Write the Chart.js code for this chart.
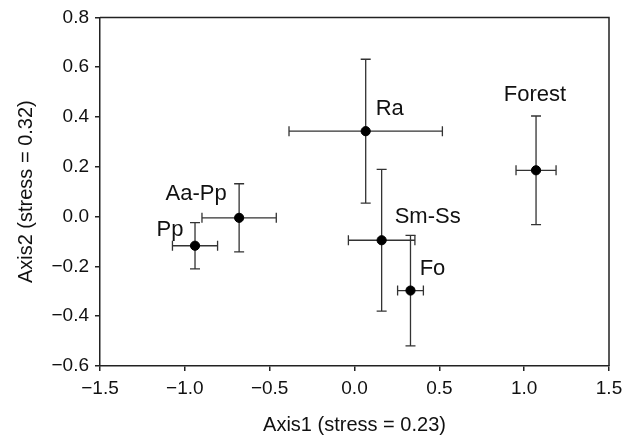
<!DOCTYPE html>
<html>
<head>
<meta charset="utf-8">
<script src="https://cdn.jsdelivr.net/npm/chart.js@4.4.1/dist/chart.umd.min.js"></script>
<style>
  body { margin: 0; background: #fff; }
  #wrap { width: 634px; height: 437px; position: relative; }
</style>
</head>
<body>
<div id="wrap"><canvas id="nmds"></canvas></div>
<script>
// groups and their NMDS scores
const groups = ['Pp', 'Aa-Pp', 'Ra', 'Sm-Ss', 'Fo', 'Forest'];
const axis1 = [-0.94, -0.68, 0.066, 0.16, 0.33, 1.07];
const axis2 = [-0.117, -0.005, 0.343, -0.095, -0.297, 0.186];
// error bar half widths
const axis1Err = [0.133, 0.219, 0.452, 0.196, 0.076, 0.118];
const axis2Err = [0.093, 0.137, 0.289, 0.285, 0.222, 0.218];

const xTicks = [-1.5, -1.0, -0.5, 0.0, 0.5, 1.0, 1.5];
const yTicks = [-0.6, -0.4, -0.2, 0.0, 0.2, 0.4, 0.6, 0.8];

// label placement, px offset from the point (text centre)
const labelDx = [-25, -43, 24, 46, 22, -1];
const labelDy = [-18, -26, -24, -25, -23, -77];

const FONT = 'Liberation Sans, Arial, Helvetica, sans-serif';
const fmt = v => v.toFixed(1).replace('-', '\u2212');

const errorBars = {
    id: 'errorBars',
    beforeDatasetsDraw(chart) {
        const { ctx, scales: { x, y } } = chart;
        const cap = 5;
        ctx.save();
        ctx.strokeStyle = '#333';
        ctx.lineWidth = 1.3;
        for (let i = 0; i < groups.length; i++) {
            const px = x.getPixelForValue(axis1[i]);
            const py = y.getPixelForValue(axis2[i]);
            const xl = x.getPixelForValue(axis1[i] - axis1Err[i]);
            const xr = x.getPixelForValue(axis1[i] + axis1Err[i]);
            const yt = y.getPixelForValue(axis2[i] + axis2Err[i]);
            const yb = y.getPixelForValue(axis2[i] - axis2Err[i]);
            ctx.beginPath();
            // horizontal
            ctx.moveTo(xl, py); ctx.lineTo(xr, py);
            ctx.moveTo(xl, py - cap); ctx.lineTo(xl, py + cap);
            ctx.moveTo(xr, py - cap); ctx.lineTo(xr, py + cap);
            // vertical
            ctx.moveTo(px, yt); ctx.lineTo(px, yb);
            ctx.moveTo(px - cap, yt); ctx.lineTo(px + cap, yt);
            ctx.moveTo(px - cap, yb); ctx.lineTo(px + cap, yb);
            ctx.stroke();
        }
        ctx.restore();
    },
    afterDatasetsDraw(chart) {
        const { ctx, chartArea: a, scales: { x, y } } = chart;
        ctx.save();
        // top and right frame lines
        ctx.strokeStyle = '#222';
        ctx.lineWidth = 1.5;
        ctx.beginPath();
        ctx.moveTo(a.left, a.top); ctx.lineTo(a.right, a.top); ctx.lineTo(a.right, a.bottom);
        ctx.stroke();
        // group labels
        ctx.fillStyle = '#111';
        ctx.font = '22px ' + FONT;
        ctx.textAlign = 'center';
        ctx.textBaseline = 'alphabetic';
        for (let i = 0; i < groups.length; i++) {
            const px = x.getPixelForValue(axis1[i]);
            const py = y.getPixelForValue(axis2[i]);
            ctx.fillText(groups[i], px + labelDx[i], py + labelDy[i] + 7.8);
        }
        ctx.restore();
    }
};

new Chart(document.getElementById('nmds'), {
    type: 'scatter',
    data: {
        datasets: [{
            label: 'groups',
            data: groups.map((g, i) => ({ x: axis1[i], y: axis2[i] })),
            backgroundColor: '#000',
            borderColor: '#000',
            pointRadius: 4.6,
            pointHoverRadius: 4.6
        }]
    },
    options: {
        responsive: true,
        maintainAspectRatio: false,
        animation: false,
        layout: { padding: { top: 15, right: 25, left: 0, bottom: 0 } },
        plugins: { legend: { display: false }, tooltip: { enabled: false } },
        scales: {
            x: {
                type: 'linear',
                min: -1.5, max: 1.5,
                afterBuildTicks: s => { s.ticks = xTicks.map(v => ({ value: v })); },
                afterFit: s => { s.height = 71; },
                ticks: { callback: v => fmt(v), color: '#111', font: { family: FONT, size: 19 }, padding: 6, maxRotation: 0 },
                grid: { drawOnChartArea: false, drawTicks: true, tickLength: 5, color: '#222', lineWidth: 1.5 },
                border: { display: true, color: '#222', width: 1.5 },
                title: { display: true, text: 'Axis1 (stress = 0.23)', color: '#111', font: { family: FONT, size: 20 }, padding: { top: 0, bottom: 0 } }
            },
            y: {
                type: 'linear',
                min: -0.6, max: 0.8,
                afterBuildTicks: s => { s.ticks = yTicks.map(v => ({ value: v })); },
                afterFit: s => { s.width = 100; },
                ticks: { callback: v => fmt(v), color: '#111', font: { family: FONT, size: 19 }, padding: 6 },
                grid: { drawOnChartArea: false, drawTicks: true, tickLength: 5, color: '#222', lineWidth: 1.5 },
                border: { display: true, color: '#222', width: 1.5 },
                title: { display: true, text: 'Axis2 (stress = 0.32)', color: '#111', font: { family: FONT, size: 20 }, padding: { top: 14, bottom: 0 } }
            }
        }
    },
    plugins: [errorBars]
});
</script>
</body>
</html>
